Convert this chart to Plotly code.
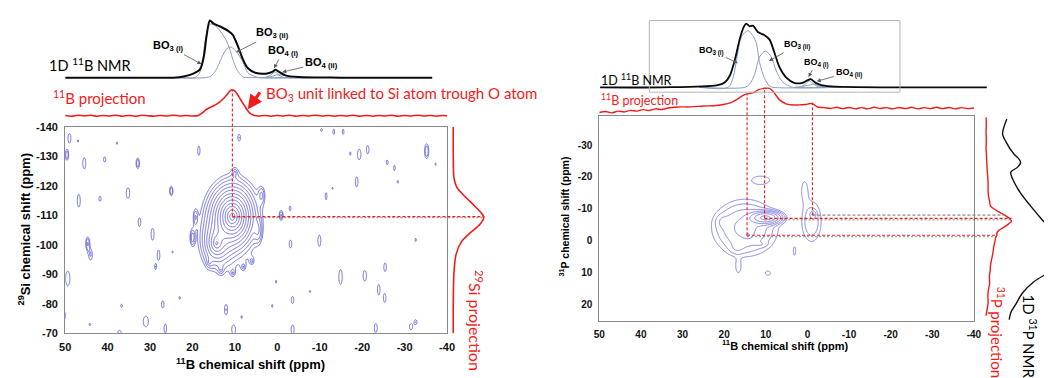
import numpy as np
import plotly.graph_objects as go

W, H = 1052, 378

# ======================= DATA =======================
# ---- Left panel (29Si-11B correlation) ----
# 1D 11B NMR spectrum (ppm, normalised intensity)
b11L_ppm = [50, 35, 24.4, 22.1, 19.8, 18.2, 17.3, 16.7, 15.9, 15.1, 13.6, 11.6, 10.5, 9.3, 8.1, 7.0, 5.0, 2.7, 1.2, 0.4, -0.4, -1.9, -5.0, -15, -36.5]
b11L_int = [0, 0, 0.0, 0.02, 0.07, 0.15, 0.38, 0.72, 1.0, 0.95, 0.90, 0.82, 0.75, 0.55, 0.32, 0.17, 0.08, 0.07, 0.10, 0.14, 0.10, 0.04, 0.01, 0, 0]
# deconvolution components
bo3iL_ppm = [24, 19.5, 18.6, 17.8, 17.1, 16.3, 15.7, 14.5, 13.3, 12.1, 11.2, 10.5, 9.6, 8.9, 8.0, 5, -8]
bo3iL_int = [0, 0.0, 0.05, 0.2, 0.6, 0.88, 0.94, 0.9, 0.8, 0.66, 0.5, 0.32, 0.15, 0.07, 0.01, 0, 0]
bo3iiL_ppm = [24, 17, 15.6, 14.4, 13.3, 12.2, 11.2, 9.8, 8.1, 7.0, 5.3, 4, -8]
bo3iiL_int = [0, 0, 0.03, 0.14, 0.32, 0.48, 0.54, 0.47, 0.27, 0.09, 0.02, 0, 0]
bo4iL_ppm = [4, 2.5, 1.5, 0.55, -0.3, -1.2, -2.5, -5]
bo4iL_int = [0, 0.01, 0.05, 0.10, 0.05, 0.01, 0, 0]
bo4iiL_ppm = [4, 2, 0.5, -0.4, -1.5, -3, -4.5, -8]
bo4iiL_int = [0, 0.01, 0.04, 0.05, 0.04, 0.015, 0, 0]
# 11B projection (F2)
projBL_ppm = [50, 48.5, 47, 45.5, 44, 42.5, 41, 39.5, 38, 36.5, 35, 33.5, 32, 30.5, 29, 27.5, 26, 24.5, 23, 21.5, 20,
              18.6, 17.6, 16.7, 15.9, 15.1, 14.3, 13.6, 12.8, 12.0, 11.4, 10.9, 10.5, 10.1, 9.5, 8.9, 8.3, 7.7, 7.1, 6.6, 6.0, 5.4,
              4.5, 3, 1.5, 0, -1.5, -3, -4.5, -6, -7.5, -9, -10.5, -12, -13.5, -15, -16.5, -18, -19.5, -21, -22.5, -24,
              -25.5, -27, -28.5, -30, -31.5, -33, -34.5, -36, -37.5, -39, -40]
projBL_int = [0.01, -0.02, 0.02, -0.01, 0.02, -0.02, 0.01, -0.01, 0.02, -0.02, 0.01, -0.02, 0.02, 0.0, -0.02, 0.01, -0.01, 0.02, -0.01, 0.01, -0.01,
              0.01, 0.12, 0.25, 0.32, 0.38, 0.45, 0.53, 0.65, 0.79, 0.92, 1.0, 1.0, 0.97, 0.85, 0.69, 0.53, 0.38, 0.22, 0.12, 0.05, 0.01,
              -0.01, 0.01, -0.02, 0.01, -0.01, 0.02, -0.02, 0.01, -0.01, 0.02, -0.01, 0.01, -0.02, 0.01, -0.01, 0.02, -0.02, 0.01, -0.02, 0.01,
              -0.01, 0.02, -0.02, 0.01, -0.01, 0.02, -0.01, 0.01, -0.02, 0.01, 0.0]
# 29Si projection (F1)
projSi_ppm = [-140, -130, -123, -119.7, -116.4, -113.2, -110.4, -109.5, -107.1, -104.4, -101.1, -96.7, -90.1, -80, -70]
projSi_int = [0, 0.0, 0.02, 0.11, 0.38, 0.70, 0.95, 1.0, 0.88, 0.59, 0.27, 0.09, 0.02, 0.0, 0]
# 2D map: main correlation peaks (B ppm, Si ppm, width B, width Si, amplitude)
mainL_x = [10.6, 14.3, 16.0, 13.3, 10.5, 8.0, 6.0, 10.0]
mainL_y = [-109.6, -100.5, -94.0, -91.5, -90.5, -92.5, -94.5, -124.5]
mainL_wx = [1.75, 1.6, 0.5, 0.5, 0.5, 0.5, 0.5, 0.5]
mainL_wy = [3.6, 3.5, 1.2, 1.2, 1.2, 1.2, 1.2, 1.4]
mainL_amp = [1.0, 0.2, 0.03, 0.03, 0.03, 0.03, 0.03, 0.03]
# 2D map: noise islands (B ppm, Si ppm, half width B, half width Si, number of contour rings)
isoL_x = [49.0, 47.0, 49.6, 37.8, 45.5, 40.7, 32.9, 18.5, 9.0, 46.8, 41.8, 35.2, 25.0, 32.5, 29.4, 44.7, 44.0, 28.0, 24.7, 28.7,
          49.4, 20.0, 23.0, 36.7, 27.0, 31.0, 44.2, 12.1, 8.4, 10.3, 26.4, 37.2, 3.7, 19.3, 4.5, -0.9, -3.0, -10.4, -13.3, -15.5,
          -17.2, -19.3, -21.3, -25.9, -27.6, -28.4, -35.2, -37.3, -18.7, -11.5, -13.0, -3.1, -9.9, -32.6, 0.3, -7.7, -3.6, 1.2, -14.9, -20.6,
          -25.4, -23.9, -25.3, -3.6, -23.2, -31.5, -32.6, 50.2]
isoL_y = [-136.2, -135.3, -130.5, -134.5, -127.7, -129.0, -127.7, -132.0, -136.4, -115.0, -115.7, -117.6, -118.3, -107.7, -103.6, -100.5, -96.5, -96.5, -97.6, -92.6,
          -88.6, -102.5, -82.0, -79.3, -79.8, -74.0, -73.0, -78.0, -75.5, -71.3, -71.6, -70.2, -117.0, -109.4, -104.5, -110.0, -112.4, -139.0, -138.4, -138.4,
          -131.0, -130.7, -132.3, -128.0, -126.1, -121.4, -131.8, -127.4, -121.4, -116.5, -119.2, -100.3, -101.4, -101.7, -87.5, -84.2, -81.3, -79.3, -89.1, -89.5,
          -92.4, -84.8, -82.0, -71.2, -71.8, -72.2, -73.8, -76.0]
isoL_hx = [0.35, 0.15, 0.4, 0.15, 0.35, 0.25, 0.4, 0.25, 0.3, 0.35, 0.25, 0.4, 0.4, 0.3, 0.35, 0.45, 0.4, 0.3, 0.15, 0.2,
           0.5, 0.45, 0.15, 0.2, 0.3, 0.6, 0.15, 0.35, 0.15, 0.45, 0.3, 0.4, 0.45, 0.3, 0.5, 0.45, 0.2, 0.2, 0.2, 0.2,
           0.15, 0.4, 0.3, 0.2, 0.2, 0.15, 0.5, 0.15, 0.3, 0.2, 0.15, 0.3, 0.35, 0.15, 0.15, 0.15, 0.3, 0.15, 0.4, 0.4,
           0.3, 0.3, 0.3, 0.35, 0.35, 0.35, 0.3, 0.3]
isoL_hy = [1.6, 0.4, 1.8, 0.4, 1.9, 0.9, 1.8, 1.5, 1.1, 2.2, 0.9, 1.8, 1.6, 1.5, 2.0, 2.2, 1.6, 1.8, 0.35, 0.9,
           2.5, 2.2, 0.5, 0.6, 1.2, 1.8, 0.5, 1.7, 0.5, 1.5, 1.5, 0.8, 1.7, 1.6, 2.2, 1.6, 0.8, 0.5, 0.9, 0.9,
           0.6, 1.8, 1.4, 0.8, 0.9, 0.5, 2.5, 0.4, 1.7, 1.2, 0.35, 1.3, 1.9, 0.6, 0.5, 0.4, 1.2, 0.5, 2.5, 1.8,
           1.5, 1.8, 1.5, 1.6, 1.5, 1.0, 0.8, 1.2]
isoL_n = [1, 1, 2, 1, 1, 1, 2, 1, 1, 1, 1, 1, 2, 1, 1, 2, 1, 1, 1, 1,
          1, 2, 1, 1, 1, 1, 1, 1, 1, 1, 1, 1, 1, 1, 1, 2, 1, 1, 1, 1,
          1, 1, 1, 1, 1, 1, 2, 1, 1, 1, 1, 1, 1, 1, 1, 1, 1, 1, 1, 1,
          1, 1, 1, 1, 1, 1, 1, 1]

# ---- Right panel (31P-11B correlation) ----
b11R_ppm = [49.8, 35, 21.8, 19.8, 18.6, 17.4, 16.3, 15.3, 14.7, 13.9, 13.1, 11.9, 10.3, 9.1, 7.9, 6.75, 5.2, 3.2, 1.2, 0.0, -0.8, -2.0, -3.6, -6.7, -20, -43.3]
b11R_int = [0, 0, 0.03, 0.08, 0.19, 0.44, 0.75, 0.95, 1.0, 0.96, 0.97, 0.87, 0.82, 0.75, 0.54, 0.32, 0.16, 0.07, 0.07, 0.11, 0.13, 0.07, 0.03, 0.01, 0, 0]
bo3iR_ppm = [26, 19, 17.8, 17.0, 15.8, 14.3, 13.2, 12.3, 11.5, 10.3, 9.1, 8.3, -8]
bo3iR_int = [0, 0, 0.17, 0.44, 0.8, 0.89, 0.82, 0.70, 0.39, 0.14, 0.02, 0, 0]
bo3iiR_ppm = [26, 15, 13.9, 12.7, 11.5, 10.1, 8.7, 7.5, 5.9, 4.4, 3.5, -8]
bo3iiR_int = [0, 0, 0.05, 0.2, 0.48, 0.57, 0.48, 0.26, 0.08, 0.02, 0, 0]
bo4iR_ppm = [3, 1.5, 0.5, -0.5, -1.5, -2.5, -4]
bo4iR_int = [0, 0.01, 0.05, 0.10, 0.05, 0.01, 0]
bo4iiR_ppm = [3, 1.5, 0, -1.5, -3, -4.5, -6]
bo4iiR_int = [0, 0.01, 0.03, 0.05, 0.02, 0.005, 0]
projBR_ppm = [50, 48.5, 47, 45.5, 44, 42.5, 41, 39.5, 38, 36.5, 35, 33.5, 31.3, 28, 25, 22.6, 20.2, 18.5, 17.0, 15.45, 14.66, 13.47, 12.6,
              11.88, 10.3, 9.1, 8.5, 7.94, 6.75, 5.16, 4.0, 2.78, 1.5, 0.4, -0.4, -1.19, -1.8, -2.38, -4, -5.5, -7, -8.5, -10, -11.5,
              -13, -14.5, -16, -17.5, -19, -20.5, -22, -23.5, -25, -26.5, -28, -29.5, -31, -32.5, -34, -35.5, -37, -38.5, -40]
projBR_int = [-0.25, -0.2, -0.27, -0.18, -0.22, -0.14, -0.18, -0.1, -0.15, -0.06, -0.1, -0.02, 0.035, 0.04, 0.085, 0.1, 0.165, 0.25, 0.415, 0.635, 0.70, 0.75, 0.82,
              0.915, 1.0, 1.0, 0.9, 0.75, 0.415, 0.2, 0.15, 0.135, 0.15, 0.165, 0.2, 0.215, 0.12, 0.035, 0.0, -0.04, 0.02, -0.05, 0.01, -0.06,
              0.0, -0.06, 0.02, -0.04, 0.0, -0.06, 0.01, -0.05, 0.02, -0.06, 0.0, -0.05, 0.02, -0.05, 0.01, -0.06, 0.0, -0.05, -0.02]
projP_ppm = [-38.7, -36.5, -34, -31.5, -29, -26.5, -24, -21.5, -19.5, -17.5, -15.5, -13.9, -12.3, -10.9, -10.0, -9.3, -8.5, -7.8, -7.0, -6.1,
             -5.2, -4.3, -3.5, -2.8, -2.2, -1.75, -1.0, 0.26, 2.0, 4.3, 5.8, 7.4, 9.5, 11.4, 13.5, 15.5, 17.5, 19.5, 21.5, 23.5]
projP_int = [0.0, 0.01, 0.0, 0.01, 0.0, 0.02, 0.03, 0.05, 0.07, 0.08, 0.08, 0.1, 0.14, 0.17, 0.3, 0.45, 0.62, 0.78, 0.92, 1.0,
             0.88, 0.72, 0.55, 0.45, 0.42, 0.43, 0.38, 0.35, 0.3, 0.26, 0.22, 0.18, 0.16, 0.13, 0.14, 0.09, 0.07, 0.08, 0.04, 0.0]
p31_ppm = [-38.2, -33.6, -31.1, -27.1, -25.6, -24.5, -23.0, -21.5, -19.5, -14.9, -10.9, -7.8, -6.0, -4.0, 0.0, 4.0, 8.0, 10.9, 12.9, 16.5, 20.0, 22.6, 24.8]
p31_int = [6.3, 2.0, 5.3, 13.7, 18.7, 20.3, 17.0, 10.3, 12.0, 20.3, 30.3, 38.7, 43.7, 52, 70, 75, 62, 44, 33.7, 22.0, 15.3, 10.3, 8.7]
# 2D map peaks (B ppm, P ppm, widths, amplitude)
mainR_x = [15.0, 10.0, 14.3, 20.5, 17.0, 11.0, -1.0, -1.4]
mainR_y = [-4.0, -7.2, -1.8, -6.0, 2.5, 1.2, -6.0, -8.3]
mainR_wx = [6.3, 2.8, 0.8, 1.5, 1.8, 1.5, 2.4, 0.6]
mainR_wy = [7.1, 1.5, 0.8, 2.0, 1.8, 0.8, 6.5, 0.9]
mainR_amp = [0.2, 0.75, 0.12, 0.04, 0.04, 0.03, 0.1, 0.1]
isoR_x = [16.6, 9.5, 3.1, 11.2, 0.7]
isoR_y = [8.4, 10.2, 3.3, -19.0, -16.0]
isoR_hx = [0.45, 0.55, 0.25, 2.0, 0.6]
isoR_hy = [1.4, 0.6, 1.2, 1.2, 2.3]
isoR_n = [1, 1, 1, 1, 1]

# ======================= STYLE / GEOMETRY =======================
RED = '#f01c1c'
BLUE_L = '#5a5ad6'
BLUE_R = '#6f6fdc'
COMP = '#8c9cc0'
TXT = 'Lato'
ARIAL = 'Liberation Sans'

def fx(px):
    return px / W

def fy(py):
    return 1 - py / H

def lin_axis(p0, p1, r0, r1, vertical):
    """Axis so that value 0 sits at pixel p0 and value 1 at p1, range [r0, r1]."""
    s = p1 - p0
    a, b = p0 + r0 * s, p0 + r1 * s
    if vertical:
        d = sorted([fy(a), fy(b)])
    else:
        d = sorted([fx(a), fx(b)])
    return d, [r0, r1]

LX0, LX1, LY0, LY1 = 60, 447, 125, 338
RX0, RX1, RY0, RY1 = 601.3, 981, 114, 325.3
XR = [50, -40]
YL = [-70, -140]
YR = [25.2, -39.0]

def lx_paper(v):
    return fx(LX0 + (XR[0] - v) / (XR[0] - XR[1]) * (LX1 - LX0))

def ly_paper(v):
    return fy(LY1 - (v - YL[0]) / (YL[1] - YL[0]) * (LY1 - LY0))

def rx_paper(v):
    return fx(RX0 + (XR[0] - v) / (XR[0] - XR[1]) * (RX1 - RX0))

def ry_paper(v):
    return fy(RY1 - (v - YR[0]) / (YR[1] - YR[0]) * (RY1 - RY0))

fig = go.Figure()

# ---------- contour fields ----------
def build_field(gx, gy, mx, my, mwx, mwy, mamp, exp_shape, ix, iy, ihx, ihy, inn, L0, f):
    X, Y = np.meshgrid(gx, gy)
    Z = np.full(X.shape, 1e-7)
    for x, y, wx, wy, a in zip(mx, my, mwx, mwy, mamp):
        r2 = ((X - x) / wx) ** 2 + ((Y - y) / wy) ** 2
        Z += a * (np.exp(-np.sqrt(r2)) if exp_shape else np.exp(-r2))
    for x, y, hx, hy, n in zip(ix, iy, ihx, ihy, inn):
        a = L0 * f ** (n - 1) * 1.35
        r_out = np.sqrt(np.log(a / L0))
        r2 = ((X - x) / (hx / r_out)) ** 2 + ((Y - y) / (hy / r_out)) ** 2
        Z += a * np.exp(-r2)
    return np.round(np.log10(Z), 4)

def contour(gx, gy, z, xa, ya, L0, f, n, color):
    fig.add_trace(go.Contour(x=gx, y=gy, z=z, xaxis=xa, yaxis=ya, autocontour=False,
                             contours=dict(start=np.log10(L0), end=np.log10(L0) + (n - 1) * np.log10(f) + 1e-6,
                                           size=np.log10(f), coloring='lines', showlabels=False),
                             line=dict(width=0.85, smoothing=1), colorscale=[[0, color], [1, color]],
                             showscale=False, hoverinfo='skip'))

L0L, FL, NL = 0.018, 1.36, 13
gxL = np.round(np.arange(-41, 51.01, 0.15), 3)
gyL = np.round(np.arange(-141, -69, 0.25), 3)
zL = build_field(gxL, gyL, mainL_x, mainL_y, mainL_wx, mainL_wy, mainL_amp, True,
                 isoL_x, isoL_y, isoL_hx, isoL_hy, isoL_n, L0L, FL)
contour(gxL, gyL, zL, 'x', 'y', L0L, FL, NL, BLUE_L)

L0R, FR, NR = 0.04, 1.62, 7
gxR = np.round(np.arange(-8, 30.01, 0.15), 3)
gyR = np.round(np.arange(-28, 18.01, 0.15), 3)
zR = build_field(gxR, gyR, mainR_x, mainR_y, mainR_wx, mainR_wy, mainR_amp, False,
                 isoR_x, isoR_y, isoR_hx, isoR_hy, isoR_n, L0R, FR)
contour(gxR, gyR, zR, 'x5', 'y5', L0R, FR, NR, BLUE_R)

# ---------- 1D traces ----------
def line(x, y, xa, ya, color, width, smooth=0.8):
    fig.add_trace(go.Scatter(x=x, y=y, xaxis=xa, yaxis=ya, mode='lines',
                             line=dict(color=color, width=width, shape='spline', smoothing=smooth),
                             hoverinfo='skip', showlegend=False))

for xs, ys in [(bo3iL_ppm, bo3iL_int), (bo3iiL_ppm, bo3iiL_int), (bo4iL_ppm, bo4iL_int), (bo4iiL_ppm, bo4iiL_int)]:
    line(xs, ys, 'x2', 'y3', COMP, 1)
line(b11L_ppm, b11L_int, 'x2', 'y3', '#0a0a0a', 2)
line(projBL_ppm, projBL_int, 'x2', 'y2', RED, 1.6)
line(projSi_int, projSi_ppm, 'x4', 'y', RED, 1.6)
for xs, ys in [(bo3iR_ppm, bo3iR_int), (bo3iiR_ppm, bo3iiR_int), (bo4iR_ppm, bo4iR_int), (bo4iiR_ppm, bo4iiR_int)]:
    line(xs, ys, 'x6', 'y7', COMP, 1)
line(b11R_ppm, b11R_int, 'x6', 'y7', '#0a0a0a', 1.8)
line(projBR_ppm, projBR_int, 'x6', 'y6', RED, 1.4)
line(projP_int, projP_ppm, 'x8', 'y5', RED, 1.4)
line(p31_int, p31_ppm, 'x9', 'y5', '#111111', 1.4)

# ---------- axes ----------
tickf_L = dict(family=ARIAL, size=11, color='#111')
tickf_R = dict(family=ARIAL, size=10, color='#111')
box = dict(showline=True, linecolor='#8a8a8a', linewidth=1, mirror=True, showgrid=False, zeroline=False,
           ticks='', ticklabelstandoff=4)
ticks_x = [50, 40, 30, 20, 10, 0, -10, -20, -30, -40]
ticks_yL = [-140, -130, -120, -110, -100, -90, -80, -70]
ticks_yR = [-30, -20, -10, 0, 10, 20]

def bold_labels(vals):
    return ['<b>%d</b>' % v for v in vals]

d2y, r2y = lin_axis(113.3, 86.7, -0.35, 1.2, True)
d3y, r3y = lin_axis(74, 15, -0.1, 1.12, True)
d4x, r4x = lin_axis(453.3, 484.3, -0.15, 1.15, False)
d6y, r6y = lin_axis(105, 85, -0.45, 1.25, True)
d7y, r7y = lin_axis(84, 18.3, -0.08, 1.1, True)
d8x, r8x = lin_axis(993.3, 1019, -0.2, 1.15, False)
hidden = dict(visible=False, showgrid=False, zeroline=False)

fig.update_layout(
    width=W, height=H, margin=dict(l=0, r=0, t=0, b=0),
    paper_bgcolor='white', plot_bgcolor='rgba(0,0,0,0)', showlegend=False,
    xaxis=dict(domain=[fx(LX0), fx(LX1)], range=XR, tickvals=ticks_x, ticktext=bold_labels(ticks_x),
               tickfont=tickf_L, anchor='y', **box),
    yaxis=dict(domain=[fy(LY1), fy(LY0)], range=YL, tickvals=ticks_yL, ticktext=bold_labels(ticks_yL),
               tickfont=tickf_L, anchor='x', **box),
    xaxis2=dict(domain=[fx(LX0), fx(LX1)], range=XR, anchor='y2', **hidden),
    yaxis2=dict(domain=d2y, range=r2y, anchor='x2', **hidden),
    yaxis3=dict(domain=d3y, range=r3y, anchor='x2', **hidden),
    xaxis4=dict(domain=d4x, range=r4x, anchor='y', **hidden),
    xaxis5=dict(domain=[fx(RX0), fx(RX1)], range=XR, tickvals=ticks_x, ticktext=bold_labels(ticks_x),
                tickfont=tickf_R, anchor='y5', **box),
    yaxis5=dict(domain=[fy(RY1), fy(RY0)], range=YR, tickvals=ticks_yR, ticktext=bold_labels(ticks_yR),
                tickfont=tickf_R, anchor='x5', **box),
    xaxis6=dict(domain=[fx(RX0), fx(994)], range=[50, 50 - (994 - RX0) / ((RX1 - RX0) / 90)], anchor='y6', **hidden),
    yaxis6=dict(domain=d6y, range=r6y, anchor='x6', **hidden),
    yaxis7=dict(domain=d7y, range=r7y, anchor='x6', **hidden),
    xaxis8=dict(domain=d8x, range=r8x, anchor='y5', **hidden),
    xaxis9=dict(domain=[fx(1006), 1.0], range=[-2, 44], anchor='y5', **hidden),
)

# ---------- guide lines ----------
shapes = []
def seg(x0, y0, x1, y1, color, dash='3px,2px', width=1.1):
    shapes.append(dict(type='line', xref='paper', yref='paper', x0=x0, y0=y0, x1=x1, y1=y1,
                       line=dict(color=color, width=width, dash=dash)))

GREY = '#8a8a8a'
xp, yp = lx_paper(10.6), ly_paper(-109.6)
seg(xp, yp, xp, fy(86.7), RED)
seg(xp, yp - 0.003, fx(484.3), yp - 0.003, GREY, dash='2px,2px', width=1)
seg(xp, yp, fx(484.3), yp, RED)
for bx, py, top, right, col in [(14.5, -1.7, 91, 1003, RED), (10.3, -7.0, 85, 1019, RED), (-1.2, -8.0, 100.7, 1015, GREY)]:
    xq, yq = rx_paper(bx), ry_paper(py)
    seg(xq, yq, xq, fy(top), RED)
    seg(xq, yq, fx(right), yq, col)
seg(rx_paper(14.5), ry_paper(-1.7) - 0.004, fx(1003), ry_paper(-1.7) - 0.004, GREY, dash='2px,2px', width=1)
seg(rx_paper(10.3), ry_paper(-7.0) - 0.004, fx(1019), ry_paper(-7.0) - 0.004, GREY, dash='2px,2px', width=1)
shapes.append(dict(type='rect', xref='paper', yref='paper', x0=fx(652), x1=fx(906), y0=fy(89), y1=fy(15),
                   line=dict(color='#b4b4b4', width=1)))
fig.update_layout(shapes=shapes)

# ---------- texts ----------
anns = []
def text(t, px, py, size, color='black', family=TXT, bold=False, angle=0, xanchor='center'):
    anns.append(dict(text=t, x=fx(px), y=fy(py), xref='paper', yref='paper', showarrow=False,
                     xanchor=xanchor, yanchor='middle', textangle=angle,
                     font=dict(family=family, size=size, color=color, weight='bold' if bold else 'normal')))

def label_arrow(t, cx, cy, hx, hy, size):
    """Peak label centred at (cx, cy) px with a thin arrow to (hx, hy) px."""
    anns.append(dict(text=t, x=fx(hx), y=fy(hy), xref='paper', yref='paper', showarrow=True,
                     ax=cx - hx, ay=cy - hy, axref='pixel', ayref='pixel',
                     arrowcolor='#555', arrowwidth=0.8, arrowhead=2, arrowsize=1.0, standoff=0,
                     font=dict(family=ARIAL, size=size, color='black', weight='bold')))

text('1D <sup>11</sup>B NMR', 85.5, 60.5, 14.5)
text('<sup>11</sup>B projection', 94.5, 95, 15, RED)
text('BO<sub>3</sub> unit linked to Si atom trough O atom', 261.5, 91, 15, RED, xanchor='left')
text('<sup>29</sup>Si projection', 476, 325, 16, RED, angle=90)
label_arrow('BO<sub>3 (i)</sub>', 165, 42, 198, 60, 11)
label_arrow('BO<sub>3 (ii)</sub>', 270, 29, 233.3, 47.7, 11)
label_arrow('BO<sub>4 (i)</sub>', 281, 47, 271.7, 64.3, 11)
label_arrow('BO<sub>4 (ii)</sub>', 319, 59, 280, 68.3, 11)
text('<sup>29</sup>Si chemical shift (ppm)', 18, 231, 13, family=ARIAL, bold=True, angle=-90)
text('<sup>11</sup>B chemical shift (ppm)', 248, 370, 13, family=ARIAL, bold=True)
anns.append(dict(text='', x=fx(245), y=fy(106.7), xref='paper', yref='paper', showarrow=True,
                 ax=13.3, ay=-18.4, axref='pixel', ayref='pixel',
                 arrowcolor=RED, arrowwidth=3.2, arrowhead=2, arrowsize=0.9))

text('1D <sup>11</sup>B NMR', 638.5, 76, 12.5)
text('<sup>11</sup>B projection', 642.5, 96.7, 12.5, RED)
label_arrow('BO<sub>3 (i)</sub>', 715.5, 46.7, 741.7, 59, 9)
label_arrow('BO<sub>3 (ii)</sub>', 801.5, 41, 773.3, 56.7, 9)
label_arrow('BO<sub>4 (i)</sub>', 821.5, 59, 813.3, 73.3, 9)
label_arrow('BO<sub>4 (ii)</sub>', 853.5, 69, 821.7, 77.7, 9)
text('<sup>31</sup>P projection', 1005, 337, 15, RED, angle=90)
text('1D <sup>31</sup>P NMR', 1037.5, 341, 15, angle=90)
text('<sup>31</sup>P chemical shift (ppm)', 565, 217, 10.5, family=ARIAL, bold=True, angle=-90)
text('<sup>11</sup>B chemical shift (ppm)', 790, 350, 11, family=ARIAL, bold=True)
fig.update_layout(annotations=anns)

fig.write_html('out.html')
